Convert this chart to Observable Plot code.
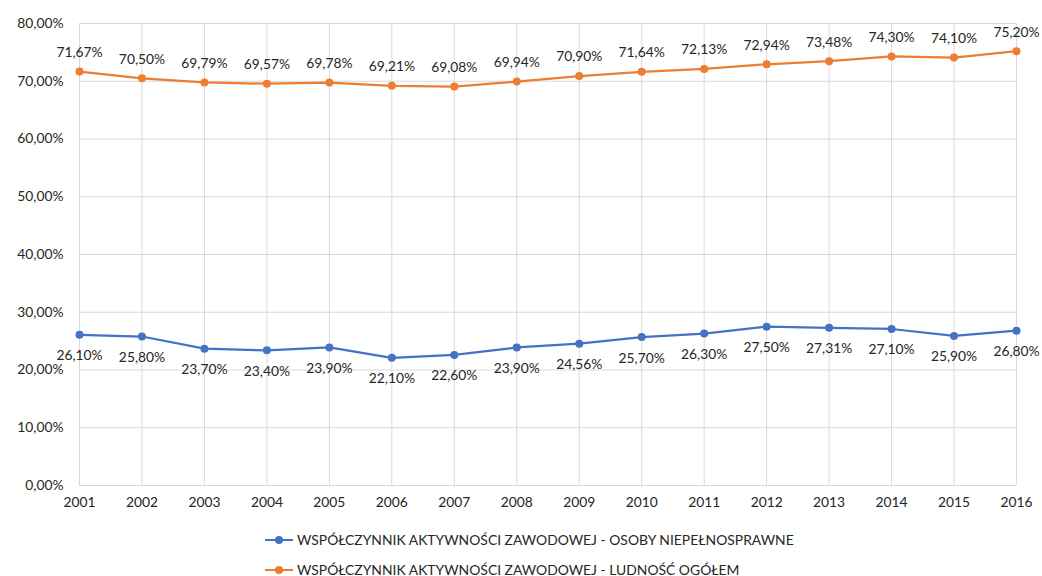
<!DOCTYPE html>
<html>
<head>
<meta charset="utf-8">
<script src="https://cdn.jsdelivr.net/npm/d3@7"></script>
<script src="https://cdn.jsdelivr.net/npm/@observablehq/plot@0.6"></script>
<style>
  html, body { margin: 0; padding: 0; background: #fff; }
  body { width: 1042px; height: 576px; overflow: hidden; font-family: Lato, "Open Sans", sans-serif; }
  #legend { position: relative; height: 56px; }
  .item { position: absolute; left: 265px; display: flex; align-items: center; font-size: 13.9px; color: #262626; }
  .sw { position: relative; width: 28px; height: 10px; margin-right: 4px; }
  .sw .ln { position: absolute; left: 0; top: 4px; width: 28px; height: 2.2px; }
  .sw .dt { position: absolute; left: 10px; top: 1px; width: 8px; height: 8px; border-radius: 50%; }
</style>
</head>
<body>
<div id="chart"></div>
<div id="legend"></div>
<script>
const years = [2001,2002,2003,2004,2005,2006,2007,2008,2009,2010,2011,2012,2013,2014,2015,2016];
const disabled = [26.10,25.80,23.70,23.40,23.90,22.10,22.60,23.90,24.56,25.70,26.30,27.50,27.31,27.10,25.90,26.80];
const total = [71.67,70.50,69.79,69.57,69.78,69.21,69.08,69.94,70.90,71.64,72.13,72.94,73.48,74.30,74.10,75.20];
const seriesNames = ["WSPÓŁCZYNNIK AKTYWNOŚCI ZAWODOWEJ - OSOBY NIEPEŁNOSPRAWNE", "WSPÓŁCZYNNIK AKTYWNOŚCI ZAWODOWEJ - LUDNOŚĆ OGÓŁEM"];
const colors = ["#4472C4", "#ED7D31"];
const yTicks = [0,10,20,30,40,50,60,70,80];

const fmt = v => v.toFixed(2).replace(".", ",") + "%";
const dataDis = years.map((y, i) => ({year: y, value: disabled[i]}));
const dataTot = years.map((y, i) => ({year: y, value: total[i]}));

const chart = Plot.plot({
  width: 1042,
  height: 520,
  marginLeft: 79,
  marginRight: 26,
  marginTop: 23,
  marginBottom: 35,
  style: {fontFamily: "Lato, 'Open Sans', sans-serif", fontSize: "13.8px", color: "#262626", background: "#fff"},
  x: {domain: [2001, 2016], ticks: years, tickFormat: d => String(d), label: null, tickSize: 0, tickPadding: 12},
  y: {domain: [0, 80], ticks: yTicks, tickFormat: d => d.toFixed(2).replace(".", ",") + "%", label: null, tickSize: 0, tickPadding: 16},
  marks: [
    Plot.gridX(years, {stroke: "#d9d9d9", strokeOpacity: 1, strokeWidth: 1}),
    Plot.gridY(yTicks, {stroke: "#d9d9d9", strokeOpacity: 1, strokeWidth: 1}),
    Plot.axisX({ticks: years, tickFormat: d => String(d), tickSize: 0, tickPadding: 12, fill: "#262626"}),
    Plot.axisY({ticks: yTicks, tickFormat: d => d.toFixed(2).replace(".", ",") + "%", tickSize: 0, tickPadding: 16, fill: "#262626"}),
    Plot.line(dataDis, {x: "year", y: "value", stroke: colors[0], strokeWidth: 2.25}),
    Plot.dot(dataDis, {x: "year", y: "value", fill: colors[0], r: 4}),
    Plot.line(dataTot, {x: "year", y: "value", stroke: colors[1], strokeWidth: 2.25}),
    Plot.dot(dataTot, {x: "year", y: "value", fill: colors[1], r: 4}),
    Plot.text(dataDis, {x: "year", y: "value", text: d => fmt(d.value), dy: 21, fill: "#262626"}),
    Plot.text(dataTot, {x: "year", y: "value", text: d => fmt(d.value), dy: -19, fill: "#262626"})
  ]
});
document.getElementById("chart").appendChild(chart);

const legend = document.getElementById("legend");
seriesNames.forEach((name, i) => {
  const item = document.createElement("div");
  item.className = "item";
  item.style.top = (i === 0 ? 11 : 41) + "px";
  item.innerHTML = `<div class="sw"><div class="ln" style="background:${colors[i]}"></div><div class="dt" style="background:${colors[i]}"></div></div><span>${name}</span>`;
  legend.appendChild(item);
});
</script>
</body>
</html>
